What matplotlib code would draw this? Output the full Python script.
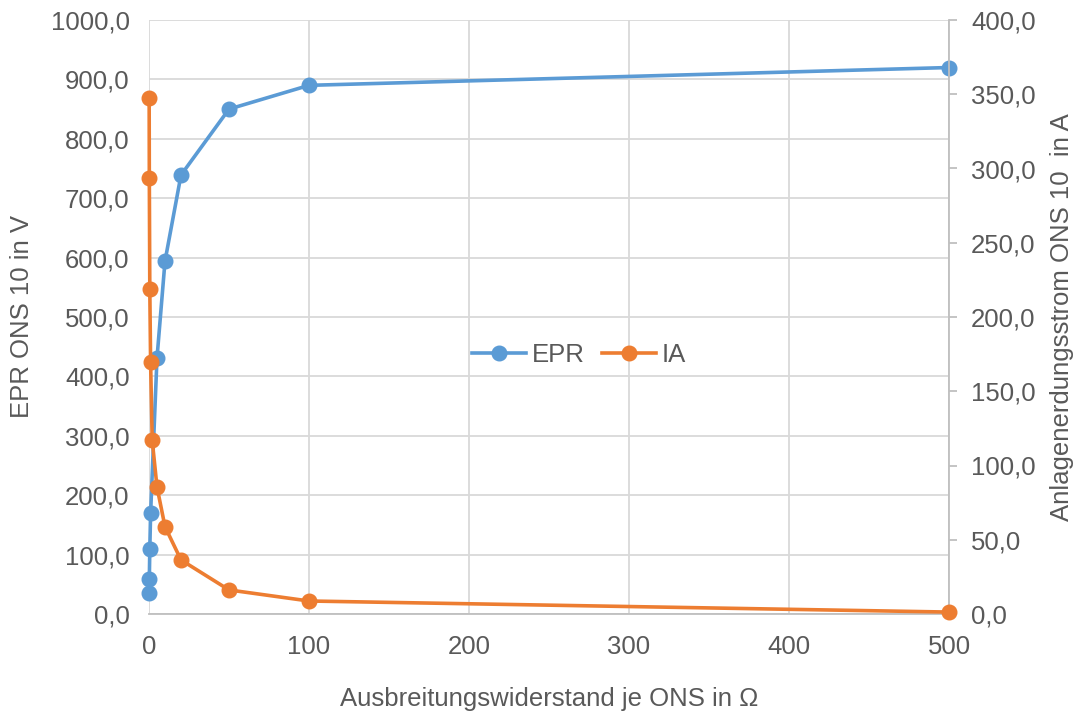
import matplotlib
matplotlib.use("Agg")
import matplotlib.pyplot as plt
from matplotlib.ticker import FuncFormatter, MultipleLocator

plt.rcParams['font.family'] = ['Liberation Sans', 'DejaVu Sans']

# Ausbreitungswiderstand je ONS (Ohm)
resistance_epr = [0.1, 0.2, 0.5, 1, 5, 10, 20, 50, 100, 500]
resistance_ia = [0.1, 0.2, 0.5, 1, 2, 5, 10, 20, 50, 100, 500]
# Erdungsspannung ONS 10 (V)
epr = [34.7, 58.7, 109.5, 169.5, 431.0, 594.0, 739.0, 850.0, 890.0, 920.0]
# Anlagenerdungsstrom ONS 10 (A)
ia = [347.5, 293.6, 218.9, 169.5, 117.0, 85.5, 58.8, 36.4, 16.2, 8.75, 1.3]

blue = '#5b9bd5'
orange = '#ed7d31'
grey_txt = '#595959'
grid_col = '#d9d9d9'
fs = 18.5

fig = plt.figure(figsize=(10.78, 7.16), dpi=100)
ax = fig.add_axes([149 / 1078, 102 / 716, 800 / 1078, 594 / 716])
ax2 = ax.twinx()

comma = FuncFormatter(lambda v, p: f"{v:.1f}".replace('.', ','))

ax.set_xlim(0, 500)
ax.set_ylim(0, 1000)
ax2.set_ylim(0, 400)
ax.xaxis.set_major_locator(MultipleLocator(100))
ax.yaxis.set_major_locator(MultipleLocator(100))
ax2.yaxis.set_major_locator(MultipleLocator(50))
ax.yaxis.set_major_formatter(comma)
ax2.yaxis.set_major_formatter(comma)

ax.grid(True, color=grid_col, linewidth=1.3)
ax.set_axisbelow(True)

for a in (ax, ax2):
    for s in a.spines.values():
        s.set_visible(False)
ax.spines['bottom'].set_visible(True)
ax.spines['bottom'].set_color('#bfbfbf')
ax.spines['bottom'].set_linewidth(1.3)
ax2.spines['right'].set_visible(True)
ax2.spines['right'].set_color('#bfbfbf')
ax2.spines['right'].set_linewidth(1.3)

ax.tick_params(axis='both', length=0, labelsize=fs, labelcolor=grey_txt)
ax.tick_params(axis='x', pad=15)
ax.tick_params(axis='y', pad=14)
ax2.tick_params(axis='y', length=6, width=1.3, color='#bfbfbf', labelsize=fs,
                labelcolor=grey_txt, pad=10)

l1, = ax.plot(resistance_epr, epr, color=blue, linewidth=2.6, marker='o',
              markersize=10.5, label='EPR', clip_on=False, zorder=3)
l2, = ax2.plot(resistance_ia, ia, color=orange, linewidth=2.6, marker='o',
               markersize=10.5, label='IA', clip_on=False, zorder=3)

ax.set_xlabel('Ausbreitungswiderstand je ONS in Ω', fontsize=fs,
              color=grey_txt, labelpad=20)
ax.set_ylabel('EPR ONS 10 in V', fontsize=fs, color=grey_txt, labelpad=12)
ax2.set_ylabel('Anlagenerdungsstrom ONS 10  in A', fontsize=fs,
               color=grey_txt, labelpad=10)

ax2.legend([l1, l2], ['EPR', 'IA'], loc='center', bbox_to_anchor=(0.5375, 0.436),
           ncol=2, frameon=False, fontsize=fs, labelcolor=grey_txt,
           handlelength=2.1, columnspacing=0.7, handletextpad=0.2)

fig.savefig('out.png', dpi=100)
